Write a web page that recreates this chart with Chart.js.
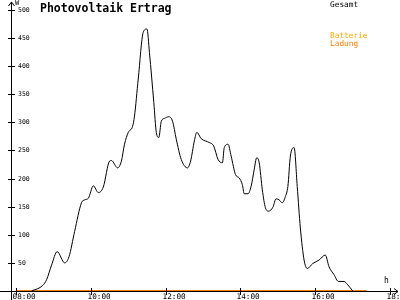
<!DOCTYPE html>
<html>
<head>
<meta charset="utf-8">
<script src="https://cdn.jsdelivr.net/npm/chart.js@4/dist/chart.umd.min.js"></script>
<style>
  html, body { margin: 0; padding: 0; background: #fff; }
  #wrap { width: 400px; height: 300px; }
</style>
</head>
<body>
<div id="wrap"><canvas id="chart" width="400" height="300"></canvas></div>
<script>
// values
var times = ['08:25','08:43','08:49','08:57','09:06','09:18','09:25','09:34','09:45','09:50',
  '09:56','10:04','10:12','10:20','10:30','10:33','10:43','10:49','10:54','11:00',
  '11:07','11:10','11:16','11:24','11:30','11:34','11:41','11:45','11:49','11:53',
  '11:58','12:05','12:11','12:17','12:25','12:35','12:40','12:46','12:50','12:57',
  '13:10','13:17','13:24','13:31','13:34','13:40','13:45','13:52','13:58','14:03',
  '14:06','14:12','14:17','14:22','14:26','14:30','14:35','14:40','14:45','14:52',
  '14:57','15:02','15:07','15:12','15:16','15:20','15:26','15:31','15:36','15:42',
  '15:47','15:56','16:06','16:16','16:22','16:30','16:37','16:46','16:52','17:00']
var gesamt = [0,10,20,46,70,50,61,106,157,162,
  165,187,175,185,231,232,219,231,261,282,
  293,311,377,460,466,424,335,282,273,302,
  307,310,302,270,234,219,231,267,282,271,
  264,258,234,228,255,261,240,207,201,189,
  173,173,186,216,237,228,180,148,142,149,
  164,162,157,168,186,240,255,186,112,55,
  40,49,55,64,43,29,17,17,11,0]
var ladungTimes = ['08:00','17:22']
var ladung = [0,0]

var yTicks = [50,100,150,200,250,300,350,400,450,500]
var xTicks = ['08:00','10:00','12:00','14:00','16:00','18:00']

function toHours(t) {
    let p = t.split(':')
    return +p[0] + p[1] / 60
}

function points(ts, vs) {
    return ts.map((t, i) => ({ x: toHours(t), y: vs[i] }))
}

var MONO = '"DejaVu Sans Mono", monospace'

//draws the hand-made axes, ticks and labels on top of the hidden scales
var axesPlugin = {
    id: 'axes',
    afterDatasetsDraw(chart) {
        let ctx = chart.ctx
        let xs = chart.scales.x
        let ys = chart.scales.y
        let x0 = xs.getPixelForValue(xs.min)
        let y0 = ys.getPixelForValue(0)
        ctx.save()
        ctx.strokeStyle = '#000'
        ctx.lineWidth = 1
        ctx.beginPath()
        // y axis
        ctx.moveTo(Math.round(x0) + 0.5, 300)
        ctx.lineTo(Math.round(x0) + 0.5, 2)
        ctx.moveTo(Math.round(x0) - 3 + 0.5, 6)
        ctx.lineTo(Math.round(x0) + 0.5, 2)
        ctx.lineTo(Math.round(x0) + 3 + 0.5, 6)
        // x axis
        ctx.moveTo(0, Math.round(y0) + 0.5)
        ctx.lineTo(398, Math.round(y0) + 0.5)
        ctx.moveTo(394, Math.round(y0) - 3 + 0.5)
        ctx.lineTo(398, Math.round(y0) + 0.5)
        ctx.lineTo(394, Math.round(y0) + 3 + 0.5)
        ctx.stroke()

        ctx.fillStyle = '#000'
        ctx.font = '6.5px ' + MONO
        ctx.textBaseline = 'middle'
        ctx.textAlign = 'left'
        yTicks.forEach((v) => {
            let py = Math.round(ys.getPixelForValue(v)) + 0.5
            ctx.beginPath()
            ctx.moveTo(Math.round(x0) - 3, py)
            ctx.lineTo(Math.round(x0) + 4, py)
            ctx.stroke()
            ctx.fillText(String(v), Math.round(x0) + 7, py)
        })

        ctx.font = '7.7px ' + MONO
        ctx.textBaseline = 'top'
        xTicks.forEach((t) => {
            let px = Math.round(xs.getPixelForValue(toHours(t))) + 0.5
            ctx.beginPath()
            ctx.moveTo(px, Math.round(y0) - 3)
            ctx.lineTo(px, Math.round(y0) + 4)
            ctx.stroke()
            ctx.fillText(t, px - 4, Math.round(y0) + 2)
        })

        ctx.font = '7px ' + MONO
        ctx.fillText('W', Math.round(x0) + 4, 0)
        ctx.font = '8px ' + MONO
        ctx.fillText('h', 384, 277)

        ctx.font = 'bold 11.5px ' + MONO
        ctx.fillText('Photovoltaik Ertrag', 40, 3)

        ctx.font = '7.8px ' + MONO
        ctx.fillText('Gesamt', 330, 1)
        ctx.fillStyle = '#ffa500'
        ctx.fillText('Batterie', 330, 32)
        ctx.fillStyle = '#ff8000'
        ctx.fillText('Ladung', 330, 40)
        ctx.restore()
    }
}

new Chart(document.getElementById('chart'), {
    type: 'line',
    data: {
        datasets: [
            {
                label: 'Gesamt',
                data: points(times, gesamt),
                borderColor: '#000',
                borderWidth: 1,
                pointRadius: 0,
                cubicInterpolationMode: 'monotone',
                fill: false
            },
            {
                label: 'Ladung',
                data: points(ladungTimes, ladung),
                borderColor: '#ff8000',
                borderWidth: 2,
                pointRadius: 0,
                fill: false
            }
        ]
    },
    options: {
        responsive: false,
        animation: false,
        events: [],
        layout: { padding: { left: 11, right: 2, top: 2, bottom: 9 } },
        plugins: { legend: { display: false }, tooltip: { enabled: false } },
        scales: {
            x: { type: 'linear', min: 7.866, max: 18.21, display: false },
            y: { min: 0, max: 514, display: false }
        }
    },
    plugins: [axesPlugin]
})
</script>
</body>
</html>
